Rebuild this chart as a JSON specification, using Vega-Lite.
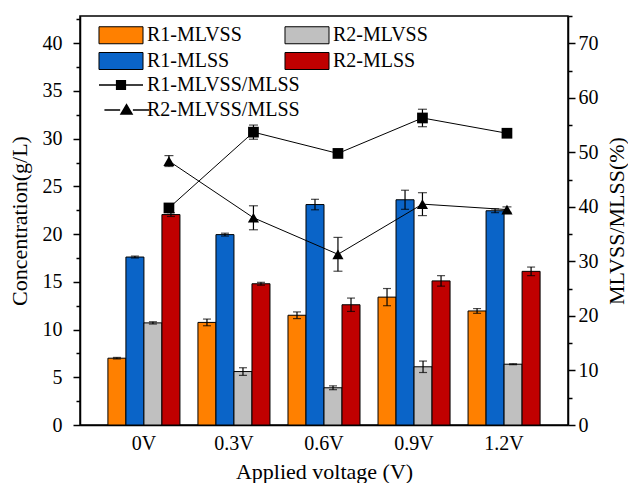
{
  "$schema": "https://vega.github.io/schema/vega-lite/v6.json",
  "width": 488,
  "height": 409,
  "autosize": {"type": "none"},
  "padding": {"left": 80, "top": 16, "right": 60, "bottom": 58},
  "config": {
    "font": "Liberation Serif",
    "view": {"stroke": "black", "strokeWidth": 1.5},
    "axis": {
      "grid": false,
      "domainColor": "black",
      "domainWidth": 1.5,
      "tickColor": "black",
      "tickWidth": 1.5,
      "labelColor": "black",
      "titleColor": "black",
      "labelFont": "Liberation Serif",
      "titleFont": "Liberation Serif",
      "labelFontSize": 20,
      "titleFontSize": 22,
      "titleFontWeight": "normal"
    },
    "legend": {"labelFont": "Liberation Serif", "labelFontSize": 20, "labelColor": "black"}
  },
  "datasets": {
    "bars": [
      {"v": "0V", "s": "R1-MLVSS", "val": 7.0, "lo": 6.92, "hi": 7.08},
      {"v": "0V", "s": "R1-MLSS", "val": 17.6, "lo": 17.5, "hi": 17.7},
      {"v": "0V", "s": "R2-MLVSS", "val": 10.7, "lo": 10.58, "hi": 10.82},
      {"v": "0V", "s": "R2-MLSS", "val": 22.05, "lo": 21.85, "hi": 22.25},
      {"v": "0.3V", "s": "R1-MLVSS", "val": 10.75, "lo": 10.4, "hi": 11.1},
      {"v": "0.3V", "s": "R1-MLSS", "val": 19.95, "lo": 19.8, "hi": 20.1},
      {"v": "0.3V", "s": "R2-MLVSS", "val": 5.6, "lo": 5.2, "hi": 6.0},
      {"v": "0.3V", "s": "R2-MLSS", "val": 14.8, "lo": 14.65, "hi": 14.95},
      {"v": "0.6V", "s": "R1-MLVSS", "val": 11.5, "lo": 11.15, "hi": 11.85},
      {"v": "0.6V", "s": "R1-MLSS", "val": 23.1, "lo": 22.55, "hi": 23.65},
      {"v": "0.6V", "s": "R2-MLVSS", "val": 3.9, "lo": 3.7, "hi": 4.1},
      {"v": "0.6V", "s": "R2-MLSS", "val": 12.6, "lo": 11.9, "hi": 13.3},
      {"v": "0.9V", "s": "R1-MLVSS", "val": 13.4, "lo": 12.5, "hi": 14.3},
      {"v": "0.9V", "s": "R1-MLSS", "val": 23.6, "lo": 22.6, "hi": 24.6},
      {"v": "0.9V", "s": "R2-MLVSS", "val": 6.1, "lo": 5.5, "hi": 6.7},
      {"v": "0.9V", "s": "R2-MLSS", "val": 15.1, "lo": 14.55, "hi": 15.65},
      {"v": "1.2V", "s": "R1-MLVSS", "val": 11.95, "lo": 11.7, "hi": 12.2},
      {"v": "1.2V", "s": "R1-MLSS", "val": 22.45, "lo": 22.25, "hi": 22.65},
      {"v": "1.2V", "s": "R2-MLVSS", "val": 6.37, "lo": 6.32, "hi": 6.42},
      {"v": "1.2V", "s": "R2-MLSS", "val": 16.1, "lo": 15.65, "hi": 16.55}
    ],
    "ratios": [
      {"v": "0V", "i": 0, "s": "R1-MLVSS/MLSS", "val": 39.8, "lo": 39.5, "hi": 40.1},
      {"v": "0.3V", "i": 1, "s": "R1-MLVSS/MLSS", "val": 53.7, "lo": 52.4, "hi": 55.0},
      {"v": "0.6V", "i": 2, "s": "R1-MLVSS/MLSS", "val": 49.8, "lo": 49.4, "hi": 50.2},
      {"v": "0.9V", "i": 3, "s": "R1-MLVSS/MLSS", "val": 56.3, "lo": 54.7, "hi": 57.9},
      {"v": "1.2V", "i": 4, "s": "R1-MLVSS/MLSS", "val": 53.5, "lo": 53.2, "hi": 53.8},
      {"v": "0V", "i": 0, "s": "R2-MLVSS/MLSS", "val": 48.4, "lo": 47.4, "hi": 49.4},
      {"v": "0.3V", "i": 1, "s": "R2-MLVSS/MLSS", "val": 38.0, "lo": 35.8, "hi": 40.2},
      {"v": "0.6V", "i": 2, "s": "R2-MLVSS/MLSS", "val": 31.3, "lo": 28.2, "hi": 34.4},
      {"v": "0.9V", "i": 3, "s": "R2-MLVSS/MLSS", "val": 40.5, "lo": 38.4, "hi": 42.6},
      {"v": "1.2V", "i": 4, "s": "R2-MLVSS/MLSS", "val": 39.5, "lo": 39.0, "hi": 40.0}
    ]
  },
  "layer": [
    {
      "data": {"name": "bars"},
      "encoding": {
        "x": {
          "field": "v",
          "type": "nominal",
          "sort": ["0V", "0.3V", "0.6V", "0.9V", "1.2V"],
          "scale": {"paddingInner": 0.2, "paddingOuter": 0.31},
          "axis": {"orient": "bottom", "title": "Applied voltage (V)", "labelAngle": 0, "ticks": false, "labelPadding": 8, "titlePadding": 8}
        },
        "xOffset": {
          "field": "s",
          "type": "nominal",
          "scale": {"domain": ["R1-MLVSS", "R1-MLSS", "R2-MLVSS", "R2-MLSS"], "paddingInner": 0, "paddingOuter": 0}
        }
      },
      "layer": [
        {
          "mark": {"type": "bar", "stroke": "black", "strokeWidth": 1},
          "encoding": {
            "y": {
              "field": "val",
              "type": "quantitative",
              "scale": {"domain": [0, 42.857], "nice": false, "zero": true},
              "axis": {
                "orient": "left",
                "title": "Concentration(g/L)",
                "values": [0, 2.5, 5, 7.5, 10, 12.5, 15, 17.5, 20, 22.5, 25, 27.5, 30, 32.5, 35, 37.5, 40, 42.5],
                "labelExpr": "datum.value % 5 === 0 ? datum.label : ''",
                "tickSize": {"condition": {"test": "datum.value % 5 === 0", "value": 7}, "value": 4},
                "labelPadding": 11,
                "titlePadding": 11
              }
            },
            "color": {
              "field": "s",
              "type": "nominal",
              "scale": {
                "domain": ["R1-MLVSS", "R1-MLSS", "R2-MLVSS", "R2-MLSS"],
                "range": ["#FF8000", "#0A64C8", "#C0C0C0", "#C00000"]
              },
              "legend": {
                "orient": "none",
                "legendX": 31,
                "legendY": 9,
                "title": null,
                "columns": 2,
                "columnPadding": 40,
                "rowPadding": 4,
                "padding": 0,
                "offset": 0,
                "symbolType": "M-2.59,-1H2.59V1H-2.59Z",
                "symbolSize": 289,
                "symbolStrokeColor": "black",
                "symbolStrokeWidth": 1,
                "labelOffset": 16,
                "labelFontSize": 20
              }
            }
          }
        },
        {
          "mark": {"type": "rule", "color": "black", "strokeWidth": 1.2},
          "encoding": {
            "y": {
              "field": "lo",
              "type": "quantitative",
              "axis": {
                "orient": "left",
                "title": "Concentration(g/L)",
                "values": [0, 2.5, 5, 7.5, 10, 12.5, 15, 17.5, 20, 22.5, 25, 27.5, 30, 32.5, 35, 37.5, 40, 42.5],
                "labelExpr": "datum.value % 5 === 0 ? datum.label : ''",
                "tickSize": {"condition": {"test": "datum.value % 5 === 0", "value": 7}, "value": 4},
                "labelPadding": 11,
                "titlePadding": 11
              }
            },
            "y2": {"field": "hi"}
          }
        },
        {
          "mark": {"type": "tick", "color": "black", "size": 8, "thickness": 1.2},
          "encoding": {
            "y": {
              "field": "lo",
              "type": "quantitative",
              "axis": {
                "orient": "left",
                "title": "Concentration(g/L)",
                "values": [0, 2.5, 5, 7.5, 10, 12.5, 15, 17.5, 20, 22.5, 25, 27.5, 30, 32.5, 35, 37.5, 40, 42.5],
                "labelExpr": "datum.value % 5 === 0 ? datum.label : ''",
                "tickSize": {"condition": {"test": "datum.value % 5 === 0", "value": 7}, "value": 4},
                "labelPadding": 11,
                "titlePadding": 11
              }
            }
          }
        },
        {
          "mark": {"type": "tick", "color": "black", "size": 8, "thickness": 1.2},
          "encoding": {
            "y": {
              "field": "hi",
              "type": "quantitative",
              "axis": {
                "orient": "left",
                "title": "Concentration(g/L)",
                "values": [0, 2.5, 5, 7.5, 10, 12.5, 15, 17.5, 20, 22.5, 25, 27.5, 30, 32.5, 35, 37.5, 40, 42.5],
                "labelExpr": "datum.value % 5 === 0 ? datum.label : ''",
                "tickSize": {"condition": {"test": "datum.value % 5 === 0", "value": 7}, "value": 4},
                "labelPadding": 11,
                "titlePadding": 11
              }
            }
          }
        }
      ]
    },
    {
      "data": {"name": "ratios"},
      "encoding": {
        "x": {
          "field": "v",
          "type": "nominal",
          "sort": ["0V", "0.3V", "0.6V", "0.9V", "1.2V"],
          "scale": {"type": "point", "padding": 0.8875, "align": 0.593},
          "axis": null
        }
      },
      "layer": [
        {
          "mark": {"type": "line", "color": "black", "strokeWidth": 1},
          "encoding": {
            "y": {
              "field": "val",
              "type": "quantitative",
              "scale": {"domain": [0, 75], "nice": false},
              "axis": {
                "orient": "right",
                "title": "MLVSS/MLSS(%)",
                "titleAngle": -90,
                "titleBaseline": "top",
                "values": [0, 5, 10, 15, 20, 25, 30, 35, 40, 45, 50, 55, 60, 65, 70, 75],
                "labelExpr": "datum.value % 10 === 0 ? datum.label : ''",
                "tickSize": {"condition": {"test": "datum.value % 10 === 0", "value": 7}, "value": 4},
                "labelPadding": 3,
                "titlePadding": 8
              }
            },
            "detail": {"field": "s"},
            "order": {"field": "i", "type": "quantitative"}
          }
        },
        {
          "mark": {"type": "rule", "color": "black", "strokeWidth": 1.2},
          "encoding": {
            "y": {
              "field": "lo",
              "type": "quantitative",
              "axis": {
                "orient": "right",
                "title": "MLVSS/MLSS(%)",
                "titleAngle": -90,
                "titleBaseline": "top",
                "values": [0, 5, 10, 15, 20, 25, 30, 35, 40, 45, 50, 55, 60, 65, 70, 75],
                "labelExpr": "datum.value % 10 === 0 ? datum.label : ''",
                "tickSize": {"condition": {"test": "datum.value % 10 === 0", "value": 7}, "value": 4},
                "labelPadding": 3,
                "titlePadding": 8
              }
            },
            "y2": {"field": "hi"}
          }
        },
        {
          "mark": {"type": "tick", "color": "black", "size": 9, "thickness": 1.2},
          "encoding": {
            "y": {
              "field": "lo",
              "type": "quantitative",
              "axis": {
                "orient": "right",
                "title": "MLVSS/MLSS(%)",
                "titleAngle": -90,
                "titleBaseline": "top",
                "values": [0, 5, 10, 15, 20, 25, 30, 35, 40, 45, 50, 55, 60, 65, 70, 75],
                "labelExpr": "datum.value % 10 === 0 ? datum.label : ''",
                "tickSize": {"condition": {"test": "datum.value % 10 === 0", "value": 7}, "value": 4},
                "labelPadding": 3,
                "titlePadding": 8
              }
            }
          }
        },
        {
          "mark": {"type": "tick", "color": "black", "size": 9, "thickness": 1.2},
          "encoding": {
            "y": {
              "field": "hi",
              "type": "quantitative",
              "axis": {
                "orient": "right",
                "title": "MLVSS/MLSS(%)",
                "titleAngle": -90,
                "titleBaseline": "top",
                "values": [0, 5, 10, 15, 20, 25, 30, 35, 40, 45, 50, 55, 60, 65, 70, 75],
                "labelExpr": "datum.value % 10 === 0 ? datum.label : ''",
                "tickSize": {"condition": {"test": "datum.value % 10 === 0", "value": 7}, "value": 4},
                "labelPadding": 3,
                "titlePadding": 8
              }
            }
          }
        },
        {
          "transform": [{"filter": "datum.s === 'R1-MLVSS/MLSS'"}],
          "mark": {"type": "point", "shape": "square", "filled": true, "color": "black", "size": 115, "opacity": 1},
          "encoding": {
            "y": {
              "field": "val",
              "type": "quantitative",
              "axis": {
                "orient": "right",
                "title": "MLVSS/MLSS(%)",
                "titleAngle": -90,
                "titleBaseline": "top",
                "values": [0, 5, 10, 15, 20, 25, 30, 35, 40, 45, 50, 55, 60, 65, 70, 75],
                "labelExpr": "datum.value % 10 === 0 ? datum.label : ''",
                "tickSize": {"condition": {"test": "datum.value % 10 === 0", "value": 7}, "value": 4},
                "labelPadding": 3,
                "titlePadding": 8
              }
            }
          }
        },
        {
          "transform": [{"filter": "datum.s === 'R2-MLVSS/MLSS'"}],
          "mark": {"type": "point", "shape": "triangle-up", "filled": true, "color": "black", "size": 125, "opacity": 1},
          "encoding": {
            "y": {
              "field": "val",
              "type": "quantitative",
              "axis": {
                "orient": "right",
                "title": "MLVSS/MLSS(%)",
                "titleAngle": -90,
                "titleBaseline": "top",
                "values": [0, 5, 10, 15, 20, 25, 30, 35, 40, 45, 50, 55, 60, 65, 70, 75],
                "labelExpr": "datum.value % 10 === 0 ? datum.label : ''",
                "tickSize": {"condition": {"test": "datum.value % 10 === 0", "value": 7}, "value": 4},
                "labelPadding": 3,
                "titlePadding": 8
              }
            }
          }
        },
        {
          "transform": [{"filter": "datum.i < 0"}],
          "mark": {"type": "point", "filled": true, "color": "black", "size": 289, "opacity": 1},
          "encoding": {
            "y": {
              "field": "val",
              "type": "quantitative",
              "axis": {
                "orient": "right",
                "title": "MLVSS/MLSS(%)",
                "titleAngle": -90,
                "titleBaseline": "top",
                "values": [0, 5, 10, 15, 20, 25, 30, 35, 40, 45, 50, 55, 60, 65, 70, 75],
                "labelExpr": "datum.value % 10 === 0 ? datum.label : ''",
                "tickSize": {"condition": {"test": "datum.value % 10 === 0", "value": 7}, "value": 4},
                "labelPadding": 3,
                "titlePadding": 8
              }
            },
            "shape": {
              "field": "s",
              "type": "nominal",
              "scale": {
                "domain": ["R1-MLVSS/MLSS", "R2-MLVSS/MLSS"],
                "range": [
                  "M-2.59,-0.08H-0.6V0.08H-2.59ZM0.6,-0.08H2.59V0.08H0.6ZM-0.6,-0.6H0.6V0.6H-0.6Z",
                  "M-1.95,-0.08H-0.1V0.08H-1.95ZM1.4,-0.08H3.3V0.08H1.4ZM-0.15,0.55L0.65,-0.8L1.45,0.55Z"
                ]
              },
              "legend": {
                "orient": "none",
                "legendX": 31,
                "legendY": 59,
                "title": null,
                "padding": 0,
                "offset": 0,
                "rowPadding": 5,
                "symbolSize": 289,
                "symbolFillColor": "black",
                "symbolStrokeColor": "black",
                "symbolStrokeWidth": 0.5,
                "symbolOpacity": 1,
                "labelOffset": 16,
                "labelFontSize": 20,
                "labelExpr": "datum.value === 'R2-MLVSS/MLSS' ? '\u00a0' + datum.label : datum.label"
              }
            }
          }
        }
      ]
    }
  ],
  "resolve": {"scale": {"x": "independent", "y": "independent"}}
}
